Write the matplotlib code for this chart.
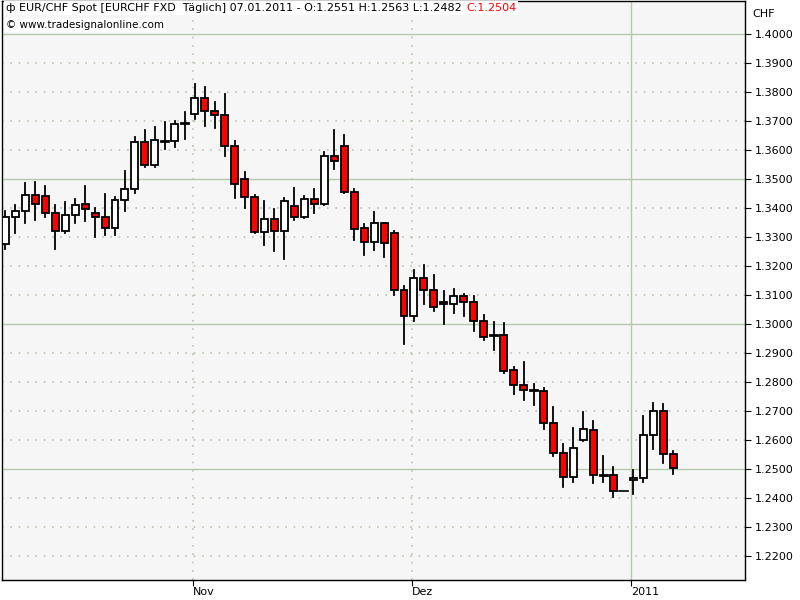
import numpy as np
import matplotlib.pyplot as plt
from matplotlib.patches import Rectangle

# daily EUR/CHF candles (open, high, low, close)
opens = [1.3276, 1.3369, 1.3390, 1.3445, 1.3441, 1.3383, 1.3321, 1.3376, 1.3414, 1.3383,
         1.3369, 1.3331, 1.3427, 1.3465, 1.3627, 1.3548, 1.3631, 1.3631, 1.3693, 1.3724,
         1.3779, 1.3734, 1.3721, 1.3614, 1.3500, 1.3438, 1.3317, 1.3362, 1.3321, 1.3407,
         1.3369, 1.3431, 1.3414, 1.3579, 1.3614, 1.3455, 1.3331, 1.3283, 1.3348, 1.3314,
         1.3117, 1.3027, 1.3158, 1.3117, 1.3076, 1.3069, 1.3097, 1.3076, 1.3010, 1.2962,
         1.2962, 1.2841, 1.2790, 1.2772, 1.2769, 1.2659, 1.2555, 1.2472, 1.2600, 1.2634,
         1.2479, 1.2479, 1.2424, 1.2462, 1.2469, 1.2617, 1.2700, 1.2551]
highs = [1.3390, 1.3410, 1.3486, 1.3490, 1.3476, 1.3410, 1.3421, 1.3431, 1.3476, 1.3400,
         1.3448, 1.3438, 1.3527, 1.3645, 1.3669, 1.3679, 1.3696, 1.3700, 1.3731, 1.3828,
         1.3817, 1.3765, 1.3793, 1.3631, 1.3524, 1.3445, 1.3424, 1.3396, 1.3434, 1.3469,
         1.3441, 1.3465, 1.3593, 1.3669, 1.3652, 1.3466, 1.3345, 1.3386, 1.3348, 1.3321,
         1.3131, 1.3186, 1.3203, 1.3169, 1.3114, 1.3121, 1.3103, 1.3097, 1.3031, 1.3007,
         1.3003, 1.2852, 1.2869, 1.2793, 1.2779, 1.2714, 1.2586, 1.2641, 1.2696, 1.2666,
         1.2545, 1.2507, 1.2424, 1.2497, 1.2683, 1.2728, 1.2724, 1.2563]
lows = [1.3259, 1.3314, 1.3348, 1.3359, 1.3369, 1.3259, 1.3314, 1.3348, 1.3355, 1.3300,
        1.3307, 1.3307, 1.3390, 1.3452, 1.3541, 1.3541, 1.3603, 1.3610, 1.3638, 1.3707,
        1.3683, 1.3676, 1.3579, 1.3434, 1.3400, 1.3314, 1.3272, 1.3251, 1.3224, 1.3359,
        1.3366, 1.3383, 1.3410, 1.3534, 1.3452, 1.3290, 1.3238, 1.3255, 1.3231, 1.3100,
        1.2931, 1.3010, 1.3069, 1.3045, 1.3000, 1.3038, 1.3027, 1.2976, 1.2944, 1.2910,
        1.2831, 1.2759, 1.2738, 1.2721, 1.2638, 1.2545, 1.2438, 1.2455, 1.2596, 1.2452,
        1.2455, 1.2403, 1.2424, 1.2414, 1.2455, 1.2569, 1.2521, 1.2482]
closes = [1.3369, 1.3390, 1.3445, 1.3414, 1.3383, 1.3321, 1.3376, 1.3410, 1.3396, 1.3369,
          1.3331, 1.3427, 1.3465, 1.3627, 1.3548, 1.3634, 1.3631, 1.3690, 1.3693, 1.3779,
          1.3734, 1.3721, 1.3614, 1.3483, 1.3438, 1.3317, 1.3362, 1.3321, 1.3424, 1.3369,
          1.3431, 1.3414, 1.3579, 1.3562, 1.3455, 1.3327, 1.3283, 1.3348, 1.3279, 1.3117,
          1.3027, 1.3158, 1.3117, 1.3059, 1.3069, 1.3097, 1.3076, 1.3010, 1.2955, 1.2962,
          1.2838, 1.2790, 1.2772, 1.2772, 1.2659, 1.2555, 1.2472, 1.2572, 1.2638, 1.2479,
          1.2479, 1.2424, 1.2424, 1.2469, 1.2617, 1.2700, 1.2552, 1.2504]

# first trading day of each month (bar index)
month_idx = [19, 41, 63]
month_lbl = ["Nov", "Dez", "2011"]

fig = plt.figure(figsize=(8, 6), dpi=100)
ax = fig.add_axes([0.003, 0.033, 0.928, 0.965])
ax.set_facecolor("#f6f6f6")

grid_c = "#b4c8ae"
ticks = np.round(np.arange(1.22, 1.4001, 0.01), 2)
for t in ticks:
    if round(t * 100) % 5 == 0:
        ax.axhline(t, color=grid_c, lw=1, zorder=0)
    else:
        ax.axhline(t, color=grid_c, lw=1.2, ls=(0, (1, 4)), zorder=0)
for i, lbl in zip(month_idx, month_lbl):
    if lbl == "2011":
        ax.axvline(i - 0.2, color=grid_c, lw=1, zorder=0)
    else:
        ax.axvline(i - 0.2, color=grid_c, lw=1.2, ls=(0, (1, 4)), zorder=0)

w = 0.7
for i in range(len(opens)):
    o, h, l, c = opens[i], highs[i], lows[i], closes[i]
    if h == l:
        ax.plot([i - 0.45, i + 0.45], [c, c], color="black", lw=1.2, zorder=2)
        continue
    ax.plot([i, i], [l, h], color="black", lw=1.3, zorder=2)
    lo, hi = min(o, c), max(o, c)
    if hi - lo < 0.0003:
        ax.plot([i - w / 2, i + w / 2], [c, c], color="black", lw=2, zorder=3)
        continue
    col = "white" if c > o else "#ff0000"
    ax.add_patch(Rectangle((i - w / 2, lo), w, hi - lo, facecolor=col,
                           edgecolor="black", lw=1.3, zorder=3))

ax.set_xlim(-0.3, 74.2)
ax.set_ylim(1.2117, 1.4114)

ax.yaxis.tick_right()
ax.set_yticks(ticks)
ax.set_yticklabels([f"{t:.4f}" for t in ticks], fontsize=8)
ax.tick_params(axis="y", length=4, pad=3)
ax.set_xticks([i - 0.2 for i in month_idx])
ax.set_xticklabels(month_lbl, fontsize=8, ha="left")
ax.tick_params(axis="x", length=4, pad=1)
for sp in ax.spines.values():
    sp.set_color("black")
    sp.set_linewidth(1)

fig.text(0.94, 0.985, "CHF", fontsize=8, va="top")

t1 = ax.text(0.005, 0.997, "ф EUR/CHF Spot [EURCHF FXD  Täglich] 07.01.2011 - O:1.2551 H:1.2563 L:1.2482",
             transform=ax.transAxes, fontsize=8, va="top", ha="left",
             bbox=dict(facecolor="white", edgecolor="none", pad=1.5), zorder=5)
ax.annotate("C:1.2504", xy=(1, 0), xycoords=t1, xytext=(3, 0), textcoords="offset points",
            fontsize=8, va="bottom", ha="left", color="red",
            bbox=dict(facecolor="white", edgecolor="none", pad=1.5), zorder=5)
ax.text(0.005, 0.967, "© www.tradesignalonline.com", transform=ax.transAxes,
        fontsize=7.5, va="top", ha="left",
        bbox=dict(facecolor="white", edgecolor="none", pad=1.5), zorder=5)

fig.savefig("out.png", dpi=100)
